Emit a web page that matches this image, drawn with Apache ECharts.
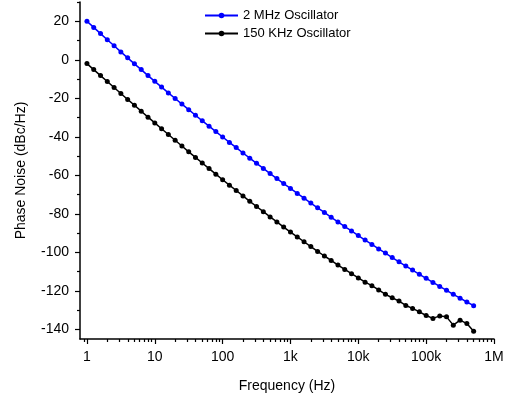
<!DOCTYPE html>
<html>
<head>
<meta charset="utf-8">
<script src="https://cdn.jsdelivr.net/npm/echarts@6/dist/echarts.min.js"></script>
<style>html,body{margin:0;padding:0;background:#fff;}#chart{width:509px;height:402px;}</style>
</head>
<body>
<div id="chart"></div>
<script>
// Frequency points (Hz)
const freqHz = [1,1.259,1.585,1.995,2.512,3.162,3.981,5.012,6.310,7.943,
  10,12.59,15.85,19.95,25.12,31.62,39.81,50.12,63.10,79.43,
  100,125.9,158.5,199.5,251.2,316.2,398.1,501.2,631.0,794.3,
  1000,1259,1585,1995,2512,3162,3981,5012,6310,7943,
  10000,12589,15849,19953,25119,31623,39811,50119,63096,79433,
  100000,125893,158489,199526,251189,316228,398107,501187];
// Phase noise, 2 MHz oscillator (dBc/Hz)
const noise2MHz = [20.0,16.8,13.6,10.4,7.3,4.1,1.0,-2.1,-5.1,-8.2,
  -11.2,-14.2,-17.2,-20.1,-23.0,-25.9,-28.8,-31.7,-34.5,-37.3,
  -40.1,-42.9,-45.6,-48.4,-51.1,-53.8,-56.4,-59.1,-61.7,-64.3,
  -66.8,-69.4,-71.9,-74.4,-76.9,-79.3,-81.8,-84.2,-86.6,-88.9,
  -91.3,-93.6,-95.9,-98.2,-100.4,-102.7,-104.9,-107.1,-109.2,-111.4,
  -113.5,-115.6,-117.7,-119.7,-121.8,-123.8,-125.8,-127.7];
// Phase noise, 150 KHz oscillator (dBc/Hz)
const noise150KHz = [-2.0,-5.1,-8.2,-11.3,-14.4,-17.5,-20.6,-23.6,-26.7,-29.8,
  -32.8,-35.8,-38.8,-41.8,-44.8,-47.8,-50.7,-53.6,-56.5,-59.4,
  -62.3,-65.1,-67.9,-70.7,-73.5,-76.2,-78.9,-81.6,-84.2,-86.9,
  -89.5,-92.0,-94.5,-97.0,-99.5,-101.9,-104.2,-106.6,-108.9,-111.1,
  -113.3,-115.5,-117.3,-119.5,-121.8,-123.6,-125.3,-127.6,-129.1,-130.9,
  -132.8,-134.3,-133.0,-133.5,-137.8,-135.2,-137.0,-141.0];
// Tick labels
const xTickHz = [1,10,100,1000,10000,100000,1000000];
const xTickLabels = ['1','10','100','1k','10k','100k','1M'];
const xMinorHz = [0.9,2,3,4,5,6,7,8,9,20,30,40,50,60,70,80,90,200,300,400,500,600,700,800,900,
  2000,3000,4000,5000,6000,7000,8000,9000,20000,30000,40000,50000,60000,70000,80000,90000,
  200000,300000,400000,500000,600000,700000,800000,900000];
const yTicks = [-140,-120,-100,-80,-60,-40,-20,0,20];
const yMinorTicks = [-130,-110,-90,-70,-50,-30,-10,10,30];
const seriesNames = ['2 MHz Oscillator','150 KHz Oscillator'];

const lg = v => Math.log10(v);
const font = 'Liberation Sans, Arial, sans-serif';
const xMin = lg(0.79), xMax = 6;

const chart = echarts.init(document.getElementById('chart'), null, {renderer:'canvas'});
const axisLineStyle = {color:'#000', width:1.5};
chart.setOption({
  backgroundColor:'#fff',
  animation:false,
  grid:{left:80, right:15, top:2, bottom:63, containLabel:false},
  legend:{
    orient:'vertical', left:199, top:4, itemWidth:33, itemHeight:7, itemGap:5,
    textStyle:{fontFamily:font, fontSize:13, color:'#000'},
    data:seriesNames
  },
  xAxis:[{
    type:'value', min:xMin, max:xMax, position:'bottom',
    name:'Frequency (Hz)', nameLocation:'middle', nameGap:40,
    nameTextStyle:{fontFamily:font, fontSize:14, color:'#000'},
    axisLine:{show:true, onZero:false, lineStyle:axisLineStyle},
    axisTick:{show:true, inside:false, length:5, lineStyle:{color:'#000', width:1.2}, customValues:xTickHz.map(lg)},
    axisLabel:{show:true, margin:11, fontFamily:font, fontSize:14, color:'#000', customValues:xTickHz.map(lg),
      formatter: v => { const i = xTickHz.findIndex(h => Math.abs(lg(h)-v) < 1e-6); return i >= 0 ? xTickLabels[i] : ''; }},
    splitLine:{show:false}
  },{
    type:'value', min:xMin, max:xMax, position:'bottom', offset:0,
    axisLine:{show:false, onZero:false},
    axisTick:{show:true, inside:false, length:3, lineStyle:{color:'#000', width:1.2}, customValues:xMinorHz.map(lg)},
    axisLabel:{show:false},
    splitLine:{show:false}
  }],
  yAxis:[{
    type:'value', min:-145, max:30, position:'left',
    name:'Phase Noise (dBc/Hz)', nameLocation:'middle', nameGap:52,
    nameTextStyle:{fontFamily:font, fontSize:14, color:'#000'},
    axisLine:{show:true, onZero:false, lineStyle:axisLineStyle},
    axisTick:{show:true, inside:false, length:5, lineStyle:{color:'#000', width:1.2}, customValues:yTicks},
    axisLabel:{show:true, margin:11, fontFamily:font, fontSize:14, color:'#000', customValues:yTicks},
    splitLine:{show:false}
  },{
    type:'value', min:-145, max:30, position:'left', offset:0,
    axisLine:{show:false, onZero:false},
    axisTick:{show:true, inside:false, length:3, lineStyle:{color:'#000', width:1.2}, customValues:yMinorTicks},
    axisLabel:{show:false},
    splitLine:{show:false}
  }],
  series:[{
    name:seriesNames[0], type:'line', xAxisIndex:0, yAxisIndex:0,
    data:freqHz.map((f,i)=>[lg(f), noise2MHz[i]]),
    symbol:'circle', symbolSize:5, showSymbol:true,
    lineStyle:{color:'#0000ff', width:1.5}, itemStyle:{color:'#0000ff'}
  },{
    name:seriesNames[1], type:'line', xAxisIndex:0, yAxisIndex:0,
    data:freqHz.map((f,i)=>[lg(f), noise150KHz[i]]),
    symbol:'circle', symbolSize:5, showSymbol:true,
    lineStyle:{color:'#000', width:1.5}, itemStyle:{color:'#000'}
  }]
});
</script>
</body>
</html>
